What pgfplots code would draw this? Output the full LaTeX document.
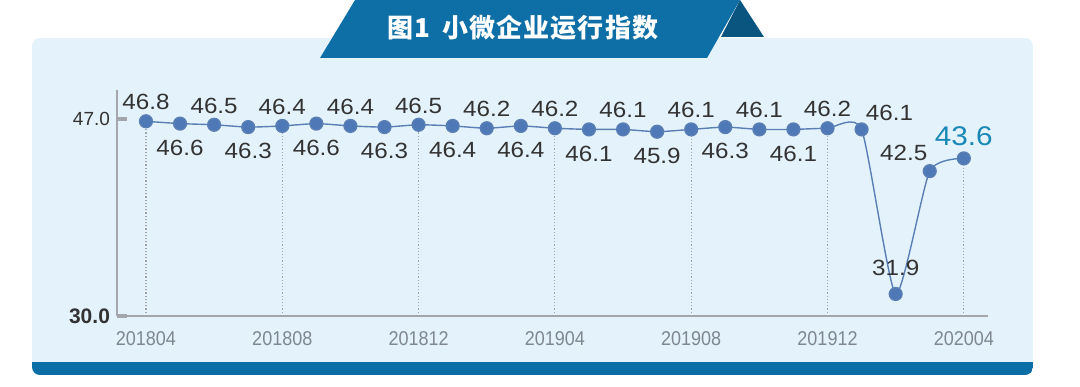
\documentclass[border=0pt]{standalone}
\usepackage{fontspec}
\usepackage{pgfplots}
\usepackage{pgfplotstable}
\pgfplotsset{compat=1.18}
\setmainfont{Liberation Sans}
\newfontfamily\cjk[LetterSpace=4]{Noto Sans CJK SC}
\newfontfamily\lab[FakeStretch=1.1]{Liberation Sans}
\newfontfamily\xlab[FakeStretch=0.9]{Liberation Sans}
\definecolor{panel}{HTML}{E4F2FB}
\definecolor{banner}{HTML}{0E6FA6}
\definecolor{fold}{HTML}{0A5480}
\definecolor{bar}{HTML}{0B6EA6}
\definecolor{dot}{HTML}{4E79B6}
\definecolor{linec}{HTML}{5A7FB5}
\definecolor{txt}{HTML}{333333}
\definecolor{xt}{HTML}{7F8890}
\definecolor{tealc}{HTML}{1A88B6}
\definecolor{axisc}{HTML}{A3A7AB}

\pgfplotstableread{
x y
0 46.8
1 46.6
2 46.5
3 46.3
4 46.4
5 46.6
6 46.4
7 46.3
8 46.5
9 46.4
10 46.2
11 46.4
12 46.2
13 46.1
14 46.1
15 45.9
16 46.1
17 46.3
18 46.1
19 46.1
20 46.2
21 46.1
22 31.9
23 42.5
24 43.6
}\data

\pgfplotsset{
  lbl/.style 2 args={draw=none, mark=none, forget plot,
    point meta=explicit symbolic, nodes near coords,
    x filter/.expression={#1},
    every node near coord/.append style={font=\lab\fontsize{11}{12}\selectfont, text=txt, inner sep=0pt, #2}},
}

\begin{document}
\begin{tikzpicture}
\begin{scope}[x=1pt,y=1pt]
\path[use as bounding box] (0,0) rectangle (540,193);
\fill[white] (0,0) rectangle (540,193);
\begin{scope}
\clip[rounded corners=4pt] (16,5.5) rectangle (516.5,174);
\fill[panel] (16,5.5) rectangle (516.5,174);
\fill[bar] (16,5.5) rectangle (516.5,12);
\end{scope}
\fill[banner] (177.5,193) -- (370,193) -- (353.5,164) -- (160,164) -- cycle;
\fill[fold] (370,193) -- (382,174.5) -- (360.5,174.5) -- cycle;
\node[text=white, font={\cjk\bfseries\fontsize{13}{14}\selectfont}] at (261.5,179) {图1\hspace{6pt}小微企业运行指数};
\end{scope}

\begin{axis}[
  at={(58.5pt,35pt)}, anchor=south west,
  scale only axis, width=435.5pt, height=113pt,
  xmin=-0.85, xmax=24.71, ymin=30, ymax=49.5,
  axis x line=bottom, axis y line=left,
  axis line style={axisc, line width=1pt, -},
  xtick={0,4,...,24},
  xticklabels={201804,201808,201812,201904,201908,201912,202004},
  xtick style={draw=none},
  xticklabel style={font=\xlab\fontsize{10}{11}\selectfont, text=xt, yshift=-4pt},
  ytick={30,47},
  yticklabels={{\bfseries\fontsize{10.5}{11}\selectfont 30.0},47.0},
  yticklabel style={font=\fontsize{9.5}{10}\selectfont, text=txt},
  ytick style={axisc, line width=2pt},
  tick align=inside, major tick length=5pt,
  clip=true,
]
\addplot[ycomb, densely dotted, color=axisc, line width=0.6pt, mark=none,
  x filter/.expression={mod(x,4)==0 ? x : nan}] table[x=x,y=y]{\data};
\addplot[smooth, tension=0.35, color=linec, line width=0.7pt,
  mark=*, mark size=3.2pt, mark options={fill=dot, draw=none}] table[x=x,y=y]{\data};
\addplot[lbl={(mod(x,2)==0 && x<21) ? x : nan}{anchor=south, yshift=5.5pt}] table[x=x,y=y,meta=y]{\data};
\addplot[lbl={(mod(x,2)==1 && x<21) ? x : nan}{anchor=north, yshift=-8pt}] table[x=x,y=y,meta=y]{\data};
\addplot[lbl={x==21 ? x : nan}{anchor=south west, xshift=2pt, yshift=4pt}] table[x=x,y=y,meta=y]{\data};
\addplot[lbl={x==22 ? x : nan}{anchor=south, yshift=9pt}] table[x=x,y=y,meta=y]{\data};
\addplot[lbl={x==23 ? x : nan}{anchor=south east, xshift=-1pt, yshift=5pt}] table[x=x,y=y,meta=y]{\data};
\addplot[lbl={x==24 ? x : nan}{anchor=south, yshift=6pt, text=tealc, font=\lab\fontsize{13.5}{14}\selectfont}] table[x=x,y=y,meta=y]{\data};
\end{axis}
\end{tikzpicture}
\end{document}
